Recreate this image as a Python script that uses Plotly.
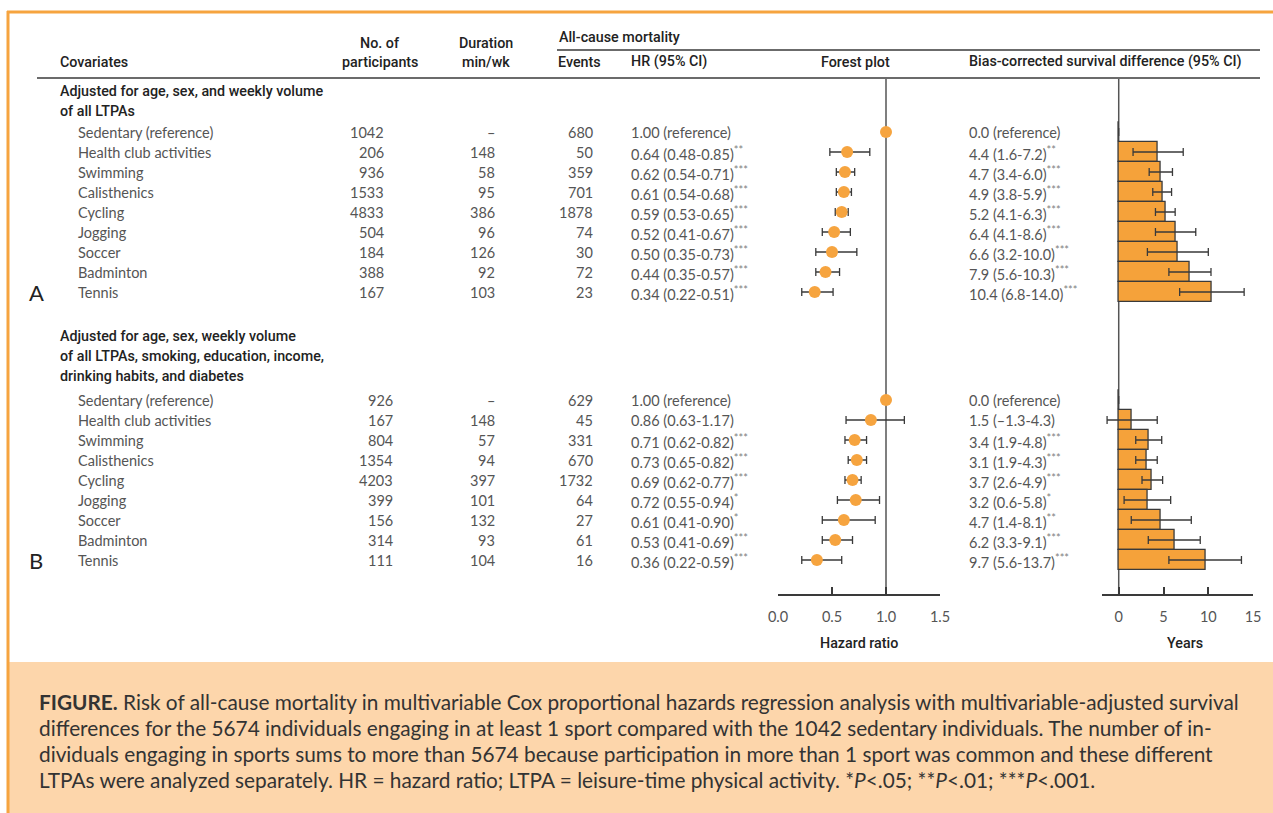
import plotly.graph_objects as go

W, H = 1273, 813

# ---------------- data ----------------
covariates = ["Sedentary (reference)", "Health club activities", "Swimming", "Calisthenics",
              "Cycling", "Jogging", "Soccer", "Badminton", "Tennis"]

a_title = ["Adjusted for age, sex, and weekly volume", "of all LTPAs"]
a_participants = ["1042", "206", "936", "1533", "4833", "504", "184", "388", "167"]
a_duration = ["–", "148", "58", "95", "386", "96", "126", "92", "103"]
a_events = ["680", "50", "359", "701", "1878", "74", "30", "72", "23"]
a_hr = [1.00, 0.64, 0.62, 0.61, 0.59, 0.52, 0.50, 0.44, 0.34]
a_hr_lo = [1.00, 0.48, 0.54, 0.54, 0.53, 0.41, 0.35, 0.35, 0.22]
a_hr_hi = [1.00, 0.85, 0.71, 0.68, 0.65, 0.67, 0.73, 0.57, 0.51]
a_hr_sig = ["", "**", "***", "***", "***", "***", "***", "***", "***"]
a_surv = [0.0, 4.4, 4.7, 4.9, 5.2, 6.4, 6.6, 7.9, 10.4]
a_surv_lo = [0.0, 1.6, 3.4, 3.8, 4.1, 4.1, 3.2, 5.6, 6.8]
a_surv_hi = [0.0, 7.2, 6.0, 5.9, 6.3, 8.6, 10.0, 10.3, 14.0]
a_surv_sig = ["", "**", "***", "***", "***", "***", "***", "***", "***"]

b_title = ["Adjusted for age, sex, weekly volume",
           "of all LTPAs, smoking, education, income,",
           "drinking habits, and diabetes"]
b_participants = ["926", "167", "804", "1354", "4203", "399", "156", "314", "111"]
b_duration = ["–", "148", "57", "94", "397", "101", "132", "93", "104"]
b_events = ["629", "45", "331", "670", "1732", "64", "27", "61", "16"]
b_hr = [1.00, 0.86, 0.71, 0.73, 0.69, 0.72, 0.61, 0.53, 0.36]
b_hr_lo = [1.00, 0.63, 0.62, 0.65, 0.62, 0.55, 0.41, 0.41, 0.22]
b_hr_hi = [1.00, 1.17, 0.82, 0.82, 0.77, 0.94, 0.90, 0.69, 0.59]
b_hr_sig = ["", "", "***", "***", "***", "*", "*", "***", "***"]
b_surv = [0.0, 1.5, 3.4, 3.1, 3.7, 3.2, 4.7, 6.2, 9.7]
b_surv_lo = [0.0, -1.3, 1.9, 1.9, 2.6, 0.6, 1.4, 3.3, 5.6]
b_surv_hi = [0.0, 4.3, 4.8, 4.3, 4.9, 5.8, 8.1, 9.1, 13.7]
b_surv_sig = ["", "", "***", "***", "***", "*", "**", "***", "***"]

hr_ticks = [0.0, 0.5, 1.0, 1.5]
hr_ticktext = ["0.0", "0.5", "1.0", "1.5"]
yr_ticks = [0, 5, 10, 15]
yr_ticktext = ["0", "5", "10", "15"]

caption_lines = [
    "<b>FIGURE.</b> Risk of all-cause mortality in multivariable Cox proportional hazards regression analysis with multivariable-adjusted survival",
    "differences for the 5674 individuals engaging in at least 1 sport compared with the 1042 sedentary individuals. The number of in-",
    "dividuals engaging in sports sums to more than 5674 because participation in more than 1 sport was common and these different",
    "LTPAs were analyzed separately. HR = hazard ratio; LTPA = leisure-time physical activity. *<i>P</i>&lt;.05; **<i>P</i>&lt;.01; ***<i>P</i>&lt;.001.",
]

# ---------------- styling / layout constants ----------------
ORANGE = "#F6A43F"
PEACH = "#FDD6AB"
DARK = "#222222"
BODY = "#555555"
LINE = "#3a3a3a"
BODY_FONT = "Lato"
HEAD_FONT = "Roboto"
BODY_SIZE = 14.5
HEAD_SIZE = 14.3

row_step = 20
a_y0 = 132
b_y0 = 400
y_a = [a_y0 + i * row_step for i in range(len(covariates))]
y_b = [b_y0 + i * row_step for i in range(len(covariates))]

plot_top, plot_bottom = 79, 594


def px(x):
    return x / W


def py(y):
    return 1 - y / H


annotations = []


def txt(x, y, s, anchor="left", size=BODY_SIZE, color=BODY, family=BODY_FONT, weight=None):
    f = dict(size=size, color=color, family=family)
    if weight:
        f["weight"] = weight
    annotations.append(dict(x=px(x), y=py(y), xref="paper", yref="paper", text=s,
                            showarrow=False, xanchor=anchor, yanchor="middle", font=f))


def sig(s):
    return (f"<span style='color:#808080;font-size:11px;baseline-shift:super'>{s}</span>"
            if s else "")


def fmt(v, d):
    return (f"{v:.{d}f}").replace("-", "–")


fig = go.Figure()

panels = [
    (y_a, a_participants, a_duration, a_events, a_hr, a_hr_lo, a_hr_hi, a_hr_sig,
     a_surv, a_surv_lo, a_surv_hi, a_surv_sig, 386),
    (y_b, b_participants, b_duration, b_events, b_hr, b_hr_lo, b_hr_hi, b_hr_sig,
     b_surv, b_surv_lo, b_surv_hi, b_surv_sig, 395),
]

for (ys, parts, durs, evs, hr, lo, hi, hsig, sv, slo, shi, ssig, part_x) in panels:
    # forest points
    fig.add_trace(go.Scatter(
        x=hr, y=ys, mode="markers", xaxis="x", yaxis="y",
        marker=dict(size=12, color=ORANGE, line=dict(width=0)),
        error_x=dict(type="data", symmetric=False,
                     array=[h - v for h, v in zip(hi, hr)],
                     arrayminus=[v - l for v, l in zip(hr, lo)],
                     color=LINE, thickness=1.3, width=4),
        showlegend=False, hoverinfo="skip"))
    # survival bars
    fig.add_trace(go.Bar(
        x=sv, y=ys, orientation="h", xaxis="x2", yaxis="y", width=row_step,
        marker=dict(color="#F5A23A", line=dict(color=LINE, width=1.3)),
        error_x=dict(type="data", symmetric=False,
                     array=[h - v for h, v in zip(shi, sv)],
                     arrayminus=[v - l for v, l in zip(sv, slo)],
                     color=LINE, thickness=1.3, width=4),
        showlegend=False, hoverinfo="skip"))
    # table text
    for i, y in enumerate(ys):
        txt(76, y, covariates[i])
        txt(part_x, y, parts[i], anchor="right")
        txt(497, y, durs[i], anchor="right")
        txt(595, y, evs[i], anchor="right")
        if i == 0:
            txt(629, y, f"{hr[i]:.2f} (reference)")
            txt(967, y, f"{sv[i]:.1f} (reference)")
        else:
            txt(629, y, f"{hr[i]:.2f} ({lo[i]:.2f}-{hi[i]:.2f}){sig(hsig[i])}")
            txt(967, y, f"{fmt(sv[i], 1)} ({fmt(slo[i], 1)}-{fmt(shi[i], 1)}){sig(ssig[i])}")

hk = dict(color=DARK, family=HEAD_FONT, weight=500, size=HEAD_SIZE)

# section titles
for k, line in enumerate(a_title):
    txt(58, 91 + k * 20, line, **hk)
for k, line in enumerate(b_title):
    txt(58, 336 + k * 20, line, **hk)

# panel letters
txt(36, y_a[-1], "A", anchor="center", size=22, color=DARK)
txt(36, y_b[-1], "B", anchor="center", size=22, color=DARK)

# column headers
txt(58, 62, "Covariates", **hk)
txt(380, 43, "No. of", anchor="center", **hk)
txt(380, 62, "participants", anchor="center", **hk)
txt(486, 43, "Duration", anchor="center", **hk)
txt(486, 62, "min/wk", anchor="center", **hk)
txt(557, 37, "All-cause mortality", **hk)
txt(579, 62, "Events", anchor="center", **hk)
txt(629, 62, "HR (95% CI)", **hk)
txt(855, 62, "Forest plot", anchor="center", **hk)
txt(967, 62, "Bias-corrected survival difference (95% CI)", **hk)

# axis titles
txt(859, 643, "Hazard ratio", anchor="center", **hk)
txt(1185, 643, "Years", anchor="center", **hk)

# caption
for k, line in enumerate(caption_lines):
    txt(37, 701 + k * 26, line, size=20.8, color="#333333")

shapes = [
    # caption box
    dict(type="rect", xref="paper", yref="paper", x0=px(9), x1=1, y0=0, y1=py(662),
         fillcolor=PEACH, line=dict(width=0), layer="below"),
    # orange frame
    dict(type="line", xref="paper", yref="paper", x0=px(7), x1=1, y0=py(12), y1=py(12),
         line=dict(color=ORANGE, width=3)),
    dict(type="line", xref="paper", yref="paper", x0=px(8), x1=px(8), y0=py(11), y1=0,
         line=dict(color=ORANGE, width=3)),
    # header rules
    dict(type="line", xref="paper", yref="paper", x0=px(557), x1=px(1260), y0=py(50), y1=py(50),
         line=dict(color=LINE, width=1.3)),
    dict(type="line", xref="paper", yref="paper", x0=px(37), x1=px(1260), y0=py(78), y1=py(78),
         line=dict(color=LINE, width=1.3)),
    # reference lines
    dict(type="line", xref="x", yref="y domain", x0=1, x1=1, y0=0, y1=1,
         line=dict(color="#555555", width=1.5), layer="below"),
    dict(type="line", xref="x2", yref="y domain", x0=0, x1=0, y0=0, y1=1,
         line=dict(color="#555555", width=1.5), layer="below"),
]

axis_common = dict(showline=True, linecolor=LINE, linewidth=1.5, ticks="inside", ticklen=7,
                   tickcolor=LINE, tickwidth=1.5, showgrid=False, zeroline=False,
                   tickfont=dict(size=BODY_SIZE, color=BODY, family=BODY_FONT),
                   ticklabelstandoff=9, fixedrange=True, automargin=False)

fig.update_layout(
    width=W, height=H, margin=dict(l=0, r=0, t=0, b=0, pad=0, autoexpand=False),
    autosize=False,
    paper_bgcolor="white", plot_bgcolor="rgba(0,0,0,0)",
    xaxis=dict(domain=[px(778), px(940)], range=[0, 1.5], anchor="y",
               tickvals=hr_ticks, ticktext=hr_ticktext, **axis_common),
    xaxis2=dict(domain=[px(1101.7), px(1253.1)], range=[-1.9, 15], anchor="y",
                tickvals=yr_ticks, ticktext=yr_ticktext, **axis_common),
    yaxis=dict(domain=[py(plot_bottom), py(plot_top)], range=[plot_bottom, plot_top],
               visible=False, fixedrange=True, automargin=False),
    annotations=annotations, shapes=shapes, bargap=0,
)

fig.write_html("out.html", config={"displayModeBar": False},
               post_script="document.body.style.margin='0';document.body.style.overflow='hidden';")
